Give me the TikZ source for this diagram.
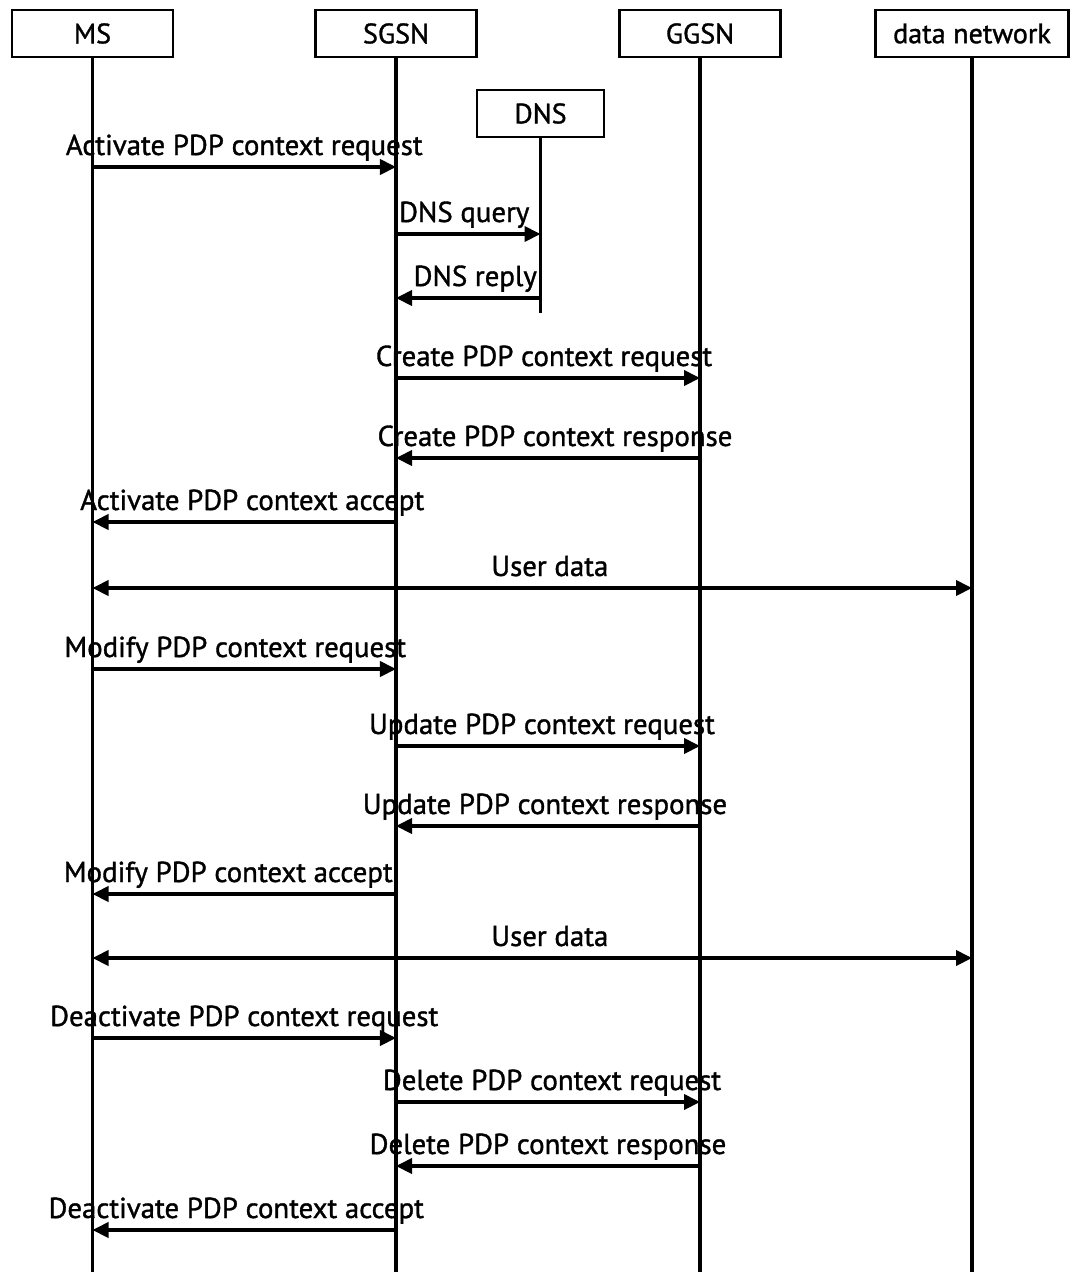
\documentclass[tikz,border=0pt]{standalone}
\usepackage{fontspec}
\setmainfont[FakeBold=1.2]{PT Sans}
\usetikzlibrary{arrows.meta,positioning}
\tikzset{
  entity/.style={rectangle, draw, line width=1.6pt, minimum width=4.025cm, minimum height=1.175cm, inner sep=0pt, font=\fontsize{20}{22}\selectfont},
  lifeline/.style={line width=2.3pt},
  msg/.style={line width=2.3pt, -{Triangle[length=0.4cm,width=0.38cm]}},
  duplex/.style={line width=2.3pt, {Triangle[length=0.4cm,width=0.38cm]}-{Triangle[length=0.4cm,width=0.38cm]}},
  lbl/.style={anchor=base, yshift=0.3cm, inner sep=0pt, font=\fontsize{20.5}{22}\selectfont}
}

\begin{document}
\begin{tikzpicture}[x=0.025cm,y=-0.025cm]
\useasboundingbox (0,0) rectangle (1074,1272);

% entities
\node[entity] (ms) at (92.5,33.5) {MS};
\node[entity] (sgsn) at (396,33.5) {SGSN};
\node[entity] (ggsn) at (700,33.5) {GGSN};
\node[entity, minimum width=4.825cm] (net) at (972,33.5) {data network};
\node[entity, minimum width=3.175cm] (dns) at (540.5,113.5) {DNS};

% lifelines
\coordinate (msend) at (ms |- 0,1272);
\coordinate (sgsnend) at (sgsn |- 0,1272);
\coordinate (ggsnend) at (ggsn |- 0,1272);
\coordinate (netend) at (net |- 0,1272);
\coordinate (dnsend) at (dns |- 0,313);
\draw[lifeline] (ms) -- (msend);
\draw[lifeline] (sgsn) -- (sgsnend);
\draw[lifeline] (ggsn) -- (ggsnend);
\draw[lifeline] (net) -- (netend);
\draw[lifeline] (dns) -- (dnsend);

% activation
\draw[msg] (ms |- 0,167) -- node[lbl] {Activate PDP context request} (sgsn |- 0,167);
\draw[msg] (sgsn |- 0,234) -- node[lbl, xshift=-0.1cm] {DNS query} (dns |- 0,234);
\draw[msg] (dns |- 0,298) -- node[lbl, xshift=0.175cm] {DNS reply} (sgsn |- 0,298);
\draw[msg] (sgsn |- 0,378) -- node[lbl, xshift=-0.1cm] {Create PDP context request} (ggsn |- 0,378);
\draw[msg] (ggsn |- 0,458) -- node[lbl, xshift=0.175cm] {Create PDP context response} (sgsn |- 0,458);
\draw[msg] (sgsn |- 0,522) -- node[lbl, xshift=0.2cm] {Activate PDP context accept} (ms |- 0,522);
\draw[duplex] (ms |- 0,588) -- node[lbl, pos=0.52] {User data} (net |- 0,588);

% modification
\draw[msg] (ms |- 0,669) -- node[lbl, xshift=-0.225cm] {Modify PDP context request} (sgsn |- 0,669);
\draw[msg] (sgsn |- 0,746) -- node[lbl, xshift=-0.15cm] {Update PDP context request} (ggsn |- 0,746);
\draw[msg] (ggsn |- 0,826) -- node[lbl, xshift=-0.075cm] {Update PDP context response} (sgsn |- 0,826);
\draw[msg] (sgsn |- 0,894) -- node[lbl, xshift=-0.4cm] {Modify PDP context accept} (ms |- 0,894);
\draw[duplex] (ms |- 0,958) -- node[lbl, pos=0.52] {User data} (net |- 0,958);

% deactivation
\draw[msg] (ms |- 0,1038) -- node[lbl] {Deactivate PDP context request} (sgsn |- 0,1038);
\draw[msg] (sgsn |- 0,1102) -- node[lbl, xshift=0.1cm] {Delete PDP context request} (ggsn |- 0,1102);
\draw[msg] (ggsn |- 0,1166) -- node[lbl] {Delete PDP context response} (sgsn |- 0,1166);
\draw[msg] (sgsn |- 0,1230) -- node[lbl, xshift=-0.2cm] {Deactivate PDP context accept} (ms |- 0,1230);
\end{tikzpicture}
\end{document}
